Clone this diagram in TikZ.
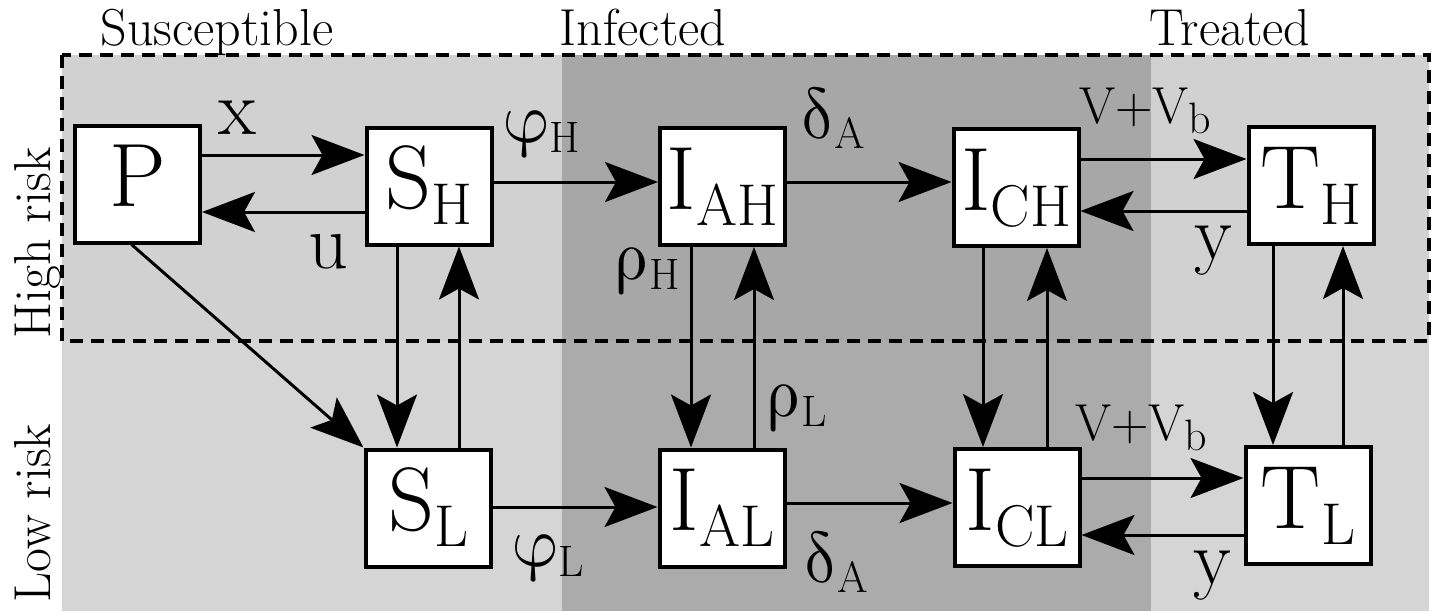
\documentclass[tikz,border=0pt]{standalone}
\usepackage{fontspec}
\usepackage{unicode-math}
\setmathfont{Latin Modern Math}
\usetikzlibrary{arrows.meta,calc}
\definecolor{bgLt}{RGB}{209,209,209}
\definecolor{bgLb}{RGB}{213,213,213}
\definecolor{bgDt}{RGB}{167,167,167}
\definecolor{bgDb}{RGB}{171,171,171}
\newcommand{\boxlab}[2]{\fontsize{90}{90}\selectfont #1\raisebox{-16pt}{\fontsize{59}{59}\selectfont #2}}
\newcommand{\ratesub}[1]{\raisebox{-10pt}{\fontsize{44}{44}\selectfont #1}}
\tikzset{
  compbox/.style={draw, line width=4pt, fill=white, minimum width=125pt, minimum height=117pt,
    inner sep=0pt, text height=61pt, text depth=16pt},
  flow/.style={line width=3pt, -{Stealth[length=53pt,width=40pt,inset=11pt]}},
  rate/.style={inner sep=0pt, font=\fontsize{78}{78}\selectfont},
  greek/.style={inner sep=0pt, font=\fontsize{72}{72}\selectfont},
  vlab/.style={inner sep=0pt, font=\fontsize{52}{52}\selectfont},
  hdr/.style={inner sep=0pt, anchor=base, font=\fontsize{52}{52}\selectfont},
}
\begin{document}
\begin{tikzpicture}[x=1pt,y=-1pt]
\useasboundingbox (0,0) rectangle (1436,611);
\fill[white] (0,0) rectangle (1436,611);
% backgrounds
\fill[bgLb] (62,341) rectangle (1429,611);
\fill[bgLt] (62,55) rectangle (1429,341);
\fill[bgDb] (562,341) rectangle (1151,611);
\fill[bgDt] (562,55) rectangle (1151,341);
\draw[line width=4pt, dash pattern=on 13pt off 8pt] (62,55) rectangle (1429,341);
% headers
\node[hdr] (hS) at (217,45) {Susceptible};
\node[hdr] (hI) at (643,45) {Infected};
\node[hdr] (hT) at (1230,45) {Treated};
\node[hdr, rotate=90] (hH) at (50,243) {High risk};
\node[hdr, rotate=90] (hL) at (50,513) {Low risk};
% compartments
\node[compbox] (P) at (137.5,184) {\boxlab{P}{}};
\node[compbox] (SH) at (429,186) {\boxlab{S}{H}};
\node[compbox] (IAH) at (722.5,186.5) {\boxlab{I}{AH}};
\node[compbox] (ICH) at (1016,187.5) {\boxlab{I}{CH}};
\node[compbox] (TH) at (1311,185.5) {\boxlab{T}{H}};
\node[compbox] (SL) at (428,508) {\boxlab{S}{L}};
\node[compbox] (IAL) at (722,508) {\boxlab{I}{AL}};
\node[compbox] (ICL) at (1017,507.5) {\boxlab{I}{CL}};
\node[compbox] (TL) at (1308,505.5) {\boxlab{T}{L}};
% horizontal flows
\draw[flow] (P.east |- 0,155) -- (SH.west |- 0,155);
\draw[flow] (SH.west |- 0,212) -- (P.east |- 0,212);
\draw[flow] (SH.east |- 0,182) -- (IAH.west |- 0,182);
\draw[flow] (IAH.east |- 0,182) -- (ICH.west |- 0,182);
\draw[flow] (ICH.east |- 0,159) -- (TH.west |- 0,159);
\draw[flow] (TH.west |- 0,211) -- (ICH.east |- 0,211);
\draw[flow] (SL.east |- 0,507) -- (IAL.west |- 0,507);
\draw[flow] (IAL.east |- 0,503) -- (ICL.west |- 0,503);
\draw[flow] (ICL.east |- 0,478) -- (TL.west |- 0,478);
\draw[flow] (TL.west |- 0,535) -- (ICL.east |- 0,535);
% vertical flows
\draw[flow] (SH.south -| 397,0) -- (SL.north -| 397,0);
\draw[flow] (SL.north -| 459,0) -- (SH.south -| 459,0);
\draw[flow] (IAH.south -| 691,0) -- (IAL.north -| 691,0);
\draw[flow] (IAL.north -| 754,0) -- (IAH.south -| 754,0);
\draw[flow] (ICH.south -| 983,0) -- (ICL.north -| 983,0);
\draw[flow] (ICL.north -| 1047,0) -- (ICH.south -| 1047,0);
\draw[flow] (TH.south -| 1273,0) -- (TL.north -| 1273,0);
\draw[flow] (TL.north -| 1343,0) -- (TH.south -| 1343,0);
% diagonal
\draw[flow] ([xshift=-6pt]P.south) -- (SL.north west);
% rate labels
\node[rate] (lx) at (237,118) {x};
\node[rate] (lu) at (328,252) {u};
\node[greek] (lphiH) at (542,134) {$\symup{φ}$\ratesub{H}};
\node[greek] (ldelA1) at (833,118) {$\symup{δ}$\ratesub{A}};
\node[greek] (lrhoH) at (647,271) {$\symup{ρ}$\ratesub{H}};
\node[vlab] (lv1) at (1145,111) {V+V\ratesub{b}};
\node[rate] (ly1) at (1213,251) {y};
\node[greek] (lrhoL) at (797,408) {$\symup{ρ}$\ratesub{L}};
\node[greek] (lphiL) at (548,558) {$\symup{φ}$\ratesub{L}};
\node[greek] (ldelA2) at (836,562) {$\symup{δ}$\ratesub{A}};
\node[vlab] (lv2) at (1141,428) {V+V\ratesub{b}};
\node[rate] (ly2) at (1212,576) {y};
\end{tikzpicture}
\end{document}
